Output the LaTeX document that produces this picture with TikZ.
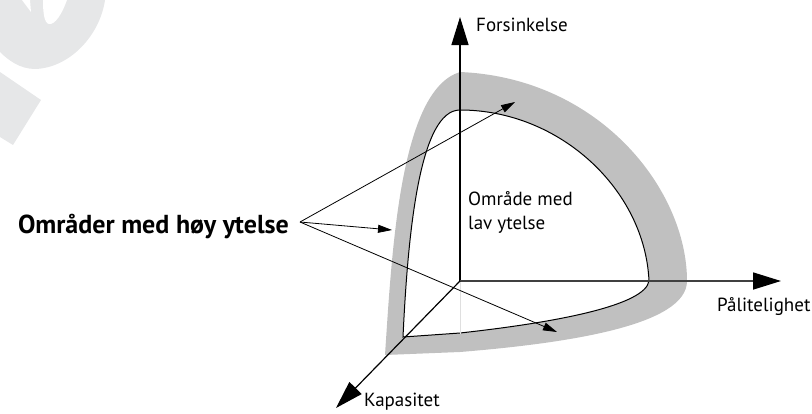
\documentclass[tikz,border=0pt]{standalone}
\usepackage{fontspec}
\setmainfont{PT Sans}
\usepackage{xcolor}
\usetikzlibrary{arrows.meta}
\tikzset{every picture/.append style={font=\fontsize{19}{24}\selectfont}}
\tikzset{every node/.append style={inner sep=0pt}}
\tikzset{axisarrow/.style={-{Triangle[length=28pt,width=17pt,color=black]}},
  lblarrow/.style={line width=0.8pt,-{Triangle[length=14pt,width=8pt]}}}
\definecolor{bandgray}{HTML}{C0C0C0}
\definecolor{markgray}{HTML}{E6E7E8}
\definecolor{axisgray}{HTML}{404040}

\begin{document}
\begin{tikzpicture}[x=1pt,y=-1pt]
    \useasboundingbox (0,0) rectangle (812,413);
    \fill[markgray] (0,0) -- (105,0) .. controls (100,35) and (70,68) .. (35,69)
      .. controls (20,69) and (8,60) .. (0,52) -- cycle;
    \fill[white] (22,0) -- (30,0) -- (31,12) -- cycle;
    \fill[white] (43,0) -- (67,0) .. controls (62,14) and (55,25) .. (49,24)
      .. controls (44,23) and (43,12) .. (43,0) -- cycle;
    \fill[markgray] (0,72) -- (41,100) -- (13,145) -- (0,137) -- cycle;
    \coordinate (O) at (460,281);
    \coordinate (ytip) at (460,17);
    \coordinate (xtip) at (781,281);
    \coordinate (ztip) at (336,408);
    \coordinate (hid) at (460,334);
    \fill[bandgray] (385,355) .. controls (392,250) and (400,90) .. (460,72)
      .. controls (600,78) and (687,190) .. (687,281)
      .. controls (687,325) and (570,343) .. (460,352) -- cycle;
    \filldraw[fill=white,draw=black,line width=1pt] (403,337) .. controls (408,230) and (420,110) .. (460,110)
      .. controls (560,110) and (645,190) .. (649,281)
      .. controls (645,305) and (560,322) .. (460,333) -- cycle;
    \draw[gray!25,line width=0.6pt] (O) -- (hid);
    \draw[axisarrow,line width=1.2pt] (O) -- (ytip);
    \draw[axisarrow,axisgray,line width=1.7pt] (O) -- (xtip);
    \draw[axisarrow,line width=1.2pt] (O) -- (ztip);
    \node[anchor=base west] (forsink) at (476,31) {Forsinkelse};
    \node[anchor=base west] (paalit) at (717,311) {Pålitelighet};
    \node[anchor=base west] (kapas) at (364,406) {Kapasitet};
    \node[anchor=base west,align=left] (lav) at (468,229) {Område med\\lav ytelse};
    \node[anchor=base east,font=\fontsize{26}{31}\bfseries\selectfont] (hoy) at (289,233) {Områder med høy ytelse};
    \coordinate (fan) at (300,222);
    \coordinate (t1) at (515,102);
    \coordinate (t2) at (392,230);
    \coordinate (t3) at (557,332);
    \foreach \t in {t1,t2,t3} \draw[lblarrow] (fan) -- (\t);
\end{tikzpicture}
\end{document}
